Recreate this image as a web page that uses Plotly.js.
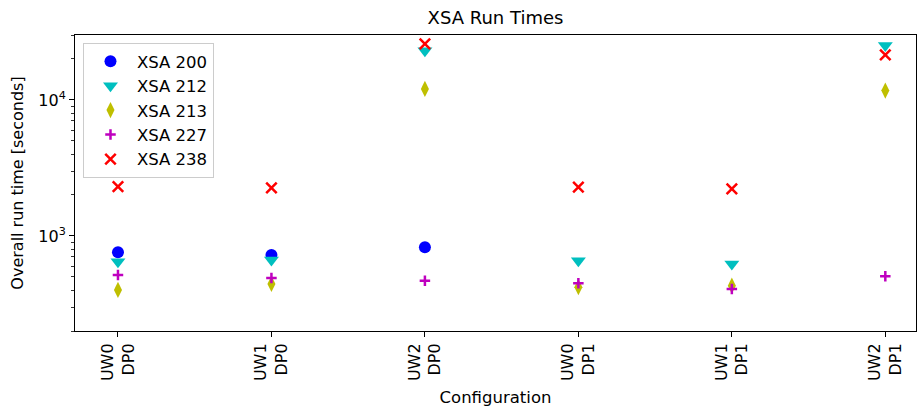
<!DOCTYPE html>
<html>
<head>
<meta charset="utf-8">
<script src="https://cdn.plot.ly/plotly-3.0.1.min.js"></script>
<style>html,body{margin:0;padding:0;background:#fff;}#chart{width:917px;height:408px;}</style>
</head>
<body>
<div id="chart"></div>
<script>
const categories = ["UW0<br>DP0", "UW1<br>DP0", "UW2<br>DP0", "UW0<br>DP1", "UW1<br>DP1", "UW2<br>DP1"];
const xsa200 = [759, 724, 826, null, null, null];
const xsa212 = [647, 666, 23000, 658, 622, 25100];
const xsa213 = [401, 444, 12050, 420, 431, 11700];
const xsa227 = [516, 491, 469, 449, 407, 505];
const xsa238 = [2300, 2255, 25800, 2280, 2220, 21400];
const seriesNames = ["XSA 200", "XSA 212", "XSA 213", "XSA 227", "XSA 238"];
const yTickVals = [1000, 10000];
const yTickText = ["10<sup>3</sup>", "10<sup>4</sup>"];
const yMinorVals = [200, 300, 400, 500, 600, 700, 800, 900, 2000, 3000, 4000, 5000, 6000, 7000, 8000, 9000, 20000, 30000];

const xIdx = categories.map((c, i) => i);
const styles = [
  {symbol: "circle", color: "#0000ff", size: 12},
  {symbol: "triangle-down", color: "#00bfbf", size: 13},
  {symbol: "diamond-tall", color: "#bfbf00", size: 11.5},
  {symbol: "cross-thin", color: "#bf00bf", size: 7.5, line: {width: 2.5, color: "#bf00bf"}},
  {symbol: "x-thin", color: "#ff0000", size: 10.5, line: {width: 2.5, color: "#ff0000"}}
];
const allSeries = [xsa200, xsa212, xsa213, xsa227, xsa238];
const traces = allSeries.map((vals, k) => ({
  type: "scatter",
  mode: "markers",
  name: seriesNames[k],
  x: xIdx,
  y: vals,
  marker: Object.assign({symbol: styles[k].symbol, color: styles[k].color, size: styles[k].size},
    styles[k].line ? {line: styles[k].line} : {line: {width: 0}})
}));

const font = "DejaVu Sans, sans-serif";
const layout = {
  width: 917, height: 408,
  margin: {l: 75, r: 1, t: 35, b: 77},
  paper_bgcolor: "#fff", plot_bgcolor: "#fff",
  font: {family: font, color: "#000", size: 16},
  title: {text: "XSA Run Times", font: {family: font, size: 18, color: "#000"}, x: 0.5, xref: "paper", xanchor: "center", y: 0.956, yref: "container", yanchor: "middle"},
  showlegend: true,
  legend: {x: 0.0095, y: 0.973, xanchor: "left", yanchor: "top", bgcolor: "#fff", bordercolor: "#cccccc", borderwidth: 1,
    font: {family: font, size: 16.5, color: "#000"}, itemwidth: 43},
  xaxis: {
    range: [-0.28, 5.2], tickmode: "array", tickvals: xIdx, ticktext: categories,
    tickangle: -90, ticks: "outside", ticklen: 5, tickwidth: 1, tickcolor: "#000",
    showline: true, linecolor: "#000", linewidth: 1, mirror: true, showgrid: false, zeroline: false,
    automargin: false,
    tickfont: {family: font, size: 16, color: "#000"},
    title: {text: "Configuration", font: {family: font, size: 16.5, color: "#000"}, standoff: 11}
  },
  yaxis: {
    type: "log", range: [Math.log10(200), Math.log10(30000)],
    tickmode: "array", tickvals: yTickVals, ticktext: yTickText,
    ticks: "outside", ticklen: 5, tickwidth: 1, tickcolor: "#000",
    minor: {tickmode: "array", tickvals: yMinorVals, ticks: "outside", ticklen: 3, tickwidth: 0.8, tickcolor: "#000", showgrid: false},
    showline: true, linecolor: "#000", linewidth: 1, mirror: true, showgrid: false, zeroline: false,
    automargin: false,
    tickfont: {family: font, size: 16, color: "#000"},
    title: {text: "Overall run time [seconds]", font: {family: font, size: 16, color: "#000"}, standoff: 10}
  }
};
Plotly.newPlot("chart", traces, layout, {displayModeBar: false, staticPlot: true});
</script>
</body>
</html>
